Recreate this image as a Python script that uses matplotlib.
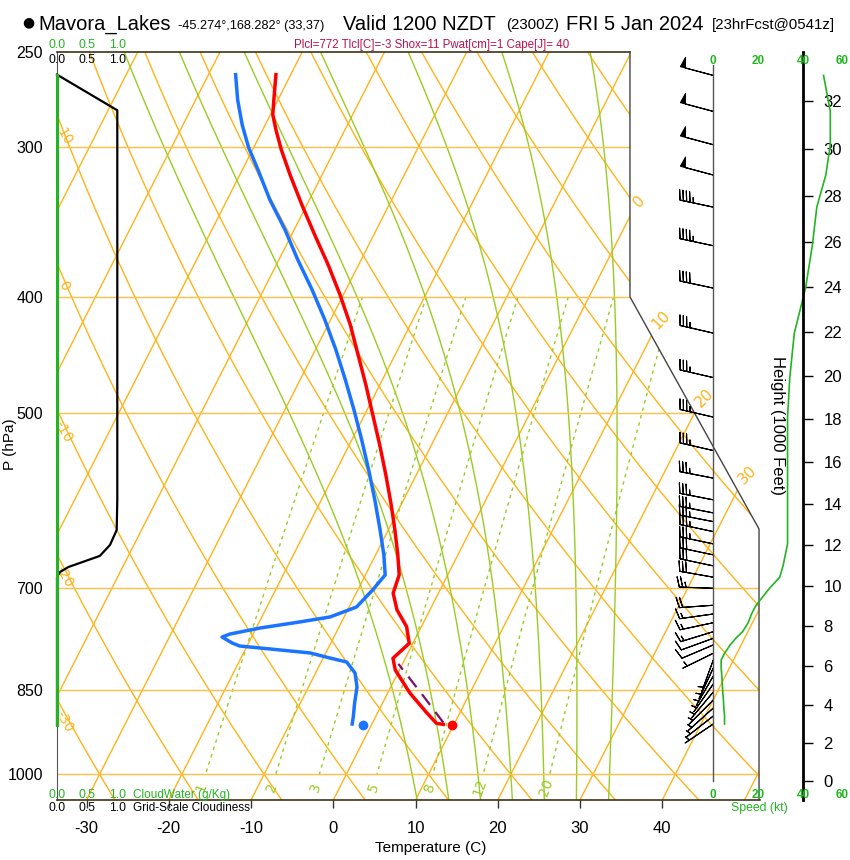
#Sondeo Skew-T (Mavora_Lakes) recreado con matplotlib
import numpy as np
import matplotlib
matplotlib.use('Agg')
import matplotlib.pyplot as plt
from matplotlib.patches import Polygon
from matplotlib.ticker import NullLocator

plt.rcParams['font.family'] = ['Liberation Sans', 'DejaVu Sans']
plt.rcParams['axes.unicode_minus'] = False

# ---------------- datos ----------------
# temperatura (hPa, C)
p_temp = [261.1, 274.0, 282.0, 290.2, 301.6, 316.4, 335.2, 355.0, 376.1, 398.4,
          422.0, 447.0, 473.5, 501.6, 531.4, 562.9, 596.2, 625.6, 656.3, 682.0,
          706.4, 729.4, 753.2, 777.6, 800.4, 818.5, 855.5, 888.9, 906.7, 908.6]
temp = [-51.8, -50.5, -49.7, -48.4, -46.5, -43.9, -40.6, -37.2, -33.7, -30.4,
        -27.3, -24.5, -21.7, -19.0, -16.3, -13.7, -11.2, -9.2, -7.3, -5.9,
        -5.5, -4.0, -1.8, -0.45, -1.5, -0.5, 2.7, 6.0, 7.8, 8.7]

# punto de rocio (hPa, C)
p_dew = [261.1, 274.0, 287.5, 300.4, 313.4, 332.0, 351.7, 372.5, 394.6, 418.0,
         442.8, 469.0, 496.8, 526.3, 557.5, 590.5, 625.6, 656.3, 682.0, 702.0,
         725.3, 739.3, 746.5, 755.1, 763.9, 768.3, 777.2, 781.7, 786.2, 792.2,
         799.9, 806.1, 823.3, 845.7, 872.1, 895.8, 907.9]
dewp = [-56.7, -54.9, -52.8, -50.6, -48.1, -44.8, -41.1, -37.7, -34.1, -30.7,
        -27.5, -24.5, -21.6, -18.8, -16.1, -13.5, -11.0, -9.0, -7.6, -8.2,
        -9.1, -11.7, -15.1, -19.5, -22.8, -23.6, -22.0, -20.9, -17.0, -11.9,
        -9.2, -6.9, -5.2, -4.1, -3.4, -2.7, -2.4]

# trayectoria de la parcela hasta el LCL
p_parcel = [905.5, 857.0, 809.0]
t_parcel = [8.6, 4.2, -0.5]

# valores de superficie (puntos)
p_sfc = 909.7
t_sfc = 9.8
td_sfc = -1.0

# viento (hPa, kt, grados)
p_wind = [261.5, 280.2, 298.7, 316.6, 336.7, 362.6, 393.3, 428.8, 467.0, 503.8,
          537.2, 566.4, 590.5, 605.5, 615.7, 627.6, 642.6, 656.3, 670.3, 685.0,
          699.7, 722.9, 735.1, 747.5, 760.5, 770.2, 780.1, 792.7, 802.9, 815.4,
          828.0, 840.8, 853.9, 867.0, 880.5, 894.1, 907.9]
wspd = [49, 52, 52, 50, 46, 44, 41, 36, 34, 33,
        33, 33, 33, 33, 33, 33, 33, 32, 31, 29.5,
        25, 19, 17, 15.5, 13, 10, 7.5, 5, 3.5, 3.5,
        3.8, 4, 4.2, 4.5, 4.7, 5, 5]
wdir = [285, 285, 285, 285, 282, 282, 282, 283, 283, 283,
        283, 281, 281, 281, 281, 282, 282, 282, 282, 280,
        272, 266, 262, 258, 253, 250, 247, 244, 200, 205,
        210, 215, 220, 225, 228, 232, 236]

# nubosidad de escala de malla y agua de nube
p_cloud = [261.1, 279.6, 590.5, 625.6, 643.8, 657.6, 671.7, 678.2, 684.7, 909.7]
cloud_frac = [0.0, 1.0, 1.0, 0.99, 0.88, 0.71, 0.19, 0.05, 0.0, 0.0]
p_cwat = [261.1, 909.7]
cloud_water = [0.0, 0.0]

# ejes y lineas de fondo
height_kft = [0, 2, 4, 6, 8, 10, 12, 14, 16, 18, 20, 22, 24, 26, 28, 30, 32]
speed_ticks = [0, 20, 40, 60]
isobars = [300, 400, 500, 700, 850, 1000]
p_labels = [250, 300, 400, 500, 700, 850, 1000]
t_ticks = [-30, -20, -10, 0, 10, 20, 30, 40]
isotherms = [-120, -110, -100, -90, -80, -70, -60, -50, -40, -30, -20, -10,
             0, 10, 20, 30, 40, 50]
iso_labels = [0, 10, 20, 30]
dry_adiabats = [-40, -30, -20, -10, 0, 10, 20, 30, 40, 50, 60, 70, 80, 90,
                100, 110, 120, 130]
dry_labels = [-30, -20, -10, 0, 10]
moist_thw = [8, 12, 16, 20, 24, 28, 32]
mix_ratios = [1, 2, 3, 5, 8, 12, 20]

# ---------------- geometria ----------------
W, H = 850, 860
P_BOT, P_TOP = 1050.5, 250.0
SKEW = 32.2
X_L, X_R1, X_R2 = -33.59, 36.07, 51.76
P_K1, P_K2 = 400.0, 624.5

ORANGE = '#ffb31a'
YGREEN = '#99cc22'
GREEN = '#22b522'
FRAME = '#3d3316'


def rect(x0, y0, x1, y1):
    return [x0 / W, 1 - y1 / H, (x1 - x0) / W, (y1 - y0) / H]


def skew_x(t, p):
    return np.asarray(t, dtype=float) + SKEW * np.log(P_BOT / np.asarray(p, dtype=float))


def dry_t(th, p):
    return (th + 273.15) * (np.asarray(p) / 1000.0) ** 0.2857 - 273.15


def mix_t(w, p):
    e = w * np.asarray(p) / (622.0 + w)
    a = np.log(e / 6.112)
    return 243.5 * a / (17.67 - a)


def moist_t(thw, p_end, n=300):
    # integra la pseudo-adiabatica desde 1000 hPa
    def f(T, lp):
        p = np.exp(lp)
        es = 6.112 * np.exp(17.67 * (T - 273.15) / (T - 29.65))
        rs = 0.622 * es / (p - es)
        return (287.04 * T + 2.501e6 * rs) / (1005.7 + 2.501e6 ** 2 * rs * 0.622 / (287.04 * T ** 2))
    lps = np.linspace(np.log(1000.0), np.log(p_end), n)
    T = thw + 273.15
    out = [T]
    for i in range(n - 1):
        h = lps[i + 1] - lps[i]
        k1 = f(T, lps[i])
        k2 = f(T + h * k1 / 2, lps[i] + h / 2)
        k3 = f(T + h * k2 / 2, lps[i] + h / 2)
        k4 = f(T + h * k3, lps[i] + h)
        T = T + h * (k1 + 2 * k2 + 2 * k3 + k4) / 6
        out.append(T)
    return np.exp(lps), np.array(out) - 273.15


def boundary_x(p):
    return np.interp(np.log(p), np.log([P_TOP, P_K1, P_K2, P_BOT]), [X_R1, X_R1, X_R2, X_R2])


fig = plt.figure(figsize=(W / 100, H / 100), dpi=100)

# ---------------- diagrama principal ----------------
ax = fig.add_axes(rect(57, 52, 760, 800))
ax.set_yscale('log')
ax.set_ylim(P_BOT, P_TOP)
ax.set_xlim(X_L, (760 - 333.3) / 8.225)

clip = Polygon(np.column_stack([[X_L, X_R1, X_R1, X_R2, X_R2, X_L],
                                [P_TOP, P_TOP, P_K1, P_K2, P_BOT, P_BOT]]),
               closed=True, transform=ax.transData, fill=False)

pg = np.geomspace(230, 1080, 300)
for t in isotherms:
    ln, = ax.plot(skew_x(t, pg), pg, color=ORANGE, lw=1, zorder=1)
    ln.set_clip_path(clip)
for th in dry_adiabats:
    ln, = ax.plot(skew_x(dry_t(th, pg), pg), pg, color=ORANGE, lw=1, zorder=1)
    ln.set_clip_path(clip)
for thw in moist_thw:
    for pe in (230.0, 1080.0):
        pm, tm = moist_t(thw, pe)
        ln, = ax.plot(skew_x(tm, pm), pm, color=YGREEN, lw=1, zorder=1)
        ln.set_clip_path(clip)
pw = np.geomspace(400, 1000, 60)
for w in mix_ratios:
    ln, = ax.plot(skew_x(mix_t(w, pw), pw), pw, color=YGREEN, lw=1, dashes=(2.5, 3), zorder=1)
    ln.set_clip_path(clip)
    ax.text(skew_x(mix_t(w, 1025), 1025), 1025, str(w), color=YGREEN, fontsize=10,
            rotation=70, ha='center', va='center', family='DejaVu Sans')
for p in isobars:
    ln, = ax.plot([X_L, X_R2], [p, p], color='#ffc04a', lw=1, zorder=1)
    ln.set_clip_path(clip)

# etiquetas de isotermas y adiabaticas secas
pp = np.geomspace(P_TOP, P_BOT, 3000)
for t in iso_labels:
    i = np.argmin(np.abs(skew_x(t, pp) - boundary_x(pp)))
    ax.annotate(str(t), (boundary_x(pp[i]), pp[i]), xytext=(7, 11), textcoords='offset points',
                rotation=45, color=ORANGE, fontsize=11, ha='center', va='center',
                family='DejaVu Sans', annotation_clip=False)
for th in dry_labels:
    i = np.argmin(np.abs(skew_x(dry_t(th, pp), pp) - X_L))
    ax.annotate(str(th), (X_L, pp[i]), xytext=(5, -16), textcoords='offset points',
                rotation=-60, color=ORANGE, fontsize=10, ha='center', va='center',
                family='DejaVu Sans', annotation_clip=False)

# perfiles
ax.plot(skew_x(temp, p_temp), p_temp, color='red', lw=2.5, zorder=5)
ax.plot(skew_x(dewp, p_dew), p_dew, color='#1a74ff', lw=2.5, zorder=5)
ax.plot(skew_x(t_parcel, p_parcel), p_parcel, color='#7a1070', lw=1.6, dashes=(6, 4), zorder=4)
ax.plot(skew_x(t_sfc, p_sfc), p_sfc, 'o', color='red', ms=6, zorder=6)
ax.plot(skew_x(td_sfc, p_sfc), p_sfc, 'o', color='#1a74ff', ms=6, zorder=6)

# marco
ax.spines['top'].set_visible(False)
ax.spines['right'].set_visible(False)
ax.spines['left'].set_color('#555555')
ax.spines['bottom'].set_color(FRAME)
ax.spines['bottom'].set_linewidth(1.2)
ax.plot([X_L, X_R1], [P_TOP, P_TOP], color=FRAME, lw=1.2, clip_on=False, zorder=3)
ax.plot([X_R1, X_R1, X_R2, X_R2], [P_TOP, P_K1, P_K2, P_BOT], color='#444444', lw=1,
        clip_on=False, zorder=3)

ax.set_xticks(t_ticks)
ax.set_xticklabels([str(t) for t in t_ticks])
ax.tick_params(axis='x', length=5.8, width=1, color='#333333', pad=9, labelsize=12)
ax.set_yticks(p_labels)
ax.yaxis.set_minor_locator(NullLocator())
ax.set_yticklabels([str(p) for p in p_labels])
ax.tick_params(axis='y', length=0, pad=10, labelsize=11.5)

# ---------------- panel de nubes ----------------
ax_c = fig.add_axes(rect(57, 52, 760, 800), facecolor='none')
ax_c.set_yscale('log')
ax_c.set_ylim(P_BOT, P_TOP)
ax_c.set_xlim(0, 703 / 60.3)
ax_c.axis('off')
ax_c.plot(cloud_frac, p_cloud, color='k', lw=1.6, clip_on=False)
ax_c.plot(cloud_water, p_cwat, color=GREEN, lw=2.2, clip_on=False)
tc = ax_c.get_xaxis_transform()
for v in (0.0, 0.5, 1.0):
    ax_c.text(v, 1.0094, f'{v:.1f}', color=GREEN, fontsize=8.8, ha='center', va='center', transform=tc)
    ax_c.text(v, 0.9893, f'{v:.1f}', color='k', fontsize=8.8, ha='center', va='center', transform=tc)
    ax_c.text(v, 0.0067, f'{v:.1f}', color=GREEN, fontsize=8.8, ha='center', va='center', transform=tc)
    ax_c.text(v, -0.0107, f'{v:.1f}', color='k', fontsize=8.8, ha='center', va='center', transform=tc)
ax_c.text(1.26, 0.0067, 'CloudWater (g/Kg)', color=GREEN, fontsize=8.5, ha='left', va='center', transform=tc)
ax_c.text(1.26, -0.0107, 'Grid-Scale Cloudiness', color='k', fontsize=8.5, ha='left', va='center', transform=tc)

# ---------------- panel de viento / altura ----------------
KT0, KTPX = 713.3, 2.25
ax_w = fig.add_axes(rect(57, 52, 850, 800), facecolor='none')
ax_w.set_yscale('log')
ax_w.set_ylim(P_BOT, P_TOP)
ax_w.set_xlim((57 - KT0) / KTPX, (850 - KT0) / KTPX)
for s in ('left', 'top', 'bottom'):
    ax_w.spines[s].set_visible(False)
ax_w.spines['right'].set_position(('data', 40))
ax_w.spines['right'].set_linewidth(2)
ax_w.set_xticks([])
ax_w.yaxis.tick_right()
p_height = 1013.25 * (1 - 2.25577e-5 * np.array(height_kft) * 304.8) ** 5.25588
ax_w.set_yticks(p_height)
ax_w.set_yticklabels([str(h) for h in height_kft])
ax_w.yaxis.set_minor_locator(NullLocator())
ax_w.tick_params(axis='y', length=7, width=1, pad=7.5, labelsize=12)

ax_w.plot([0, 0], [1013.25, 256.2], color='#555555', lw=1)
ax_w.plot(wspd, p_wind, color=GREEN, lw=1.2)
wd = np.radians(wdir)
u = -np.array(wspd) * np.sin(wd)
v = -np.array(wspd) * np.cos(wd)
ax_w.barbs(np.zeros(len(p_wind)), p_wind, u, v, length=7, linewidth=0.8, color='k',
           sizes=dict(spacing=0.1, height=0.3, width=0.15), clip_on=False)

tw = ax_w.get_xaxis_transform()
for s in speed_ticks:
    # la ultima etiqueta se ajusta al borde de la figura
    ha = 'right' if s == speed_ticks[-1] else 'center'
    xs = (849 - KT0) / KTPX if s == speed_ticks[-1] else s
    ax_w.text(xs, 0.988, str(s), color=GREEN, fontsize=8.5, fontweight='bold', ha=ha, va='center', transform=tw)
    ax_w.text(xs, 0.0067, str(s), color=GREEN, fontsize=8.5, fontweight='bold', ha=ha, va='center', transform=tw)
ax_w.text(20.7, -0.0107, 'Speed (kt)', color=GREEN, fontsize=8.8, ha='center', va='center', transform=tw)
ax_w.text((778 - KT0) / KTPX, 512, 'Height (1000 Feet)', rotation=-90, fontsize=12,
          ha='center', va='center')

# ---------------- titulos ----------------
yb = 1 - 29.5 / H
fig.text(28 / W, 1 - 22 / H, '●', fontsize=10, ha='center', va='center', family='DejaVu Sans')
fig.text(38 / W, yb, 'Mavora_Lakes', fontsize=14.5, va='baseline')
fig.text(178 / W, yb, '-45.274°,168.282° (33,37)', fontsize=9.2, va='baseline')
fig.text(343 / W, yb, 'Valid 1200 NZDT', fontsize=14.5, va='baseline')
fig.text(506 / W, yb, '(2300Z)', fontsize=10.8, va='baseline')
fig.text(566 / W, yb, 'FRI 5 Jan 2024', fontsize=14.5, va='baseline')
fig.text(712 / W, yb, '[23hrFcst@0541z]', fontsize=10.8, va='baseline')
fig.text(431.5 / W, 1 - 48 / H, 'Plcl=772 Tlcl[C]=-3 Shox=11 Pwat[cm]=1 Cape[J]= 40',
         color='#b8124f', fontsize=8.3, ha='center', va='baseline')

fig.text(431 / W, 1 - 848 / H, 'Temperature (C)', fontsize=11, ha='center', va='center')
fig.text(10 / W, 1 - 444 / H, 'P (hPa)', fontsize=11, rotation=90, ha='center', va='center')

plt.savefig('out.png', dpi=100)
